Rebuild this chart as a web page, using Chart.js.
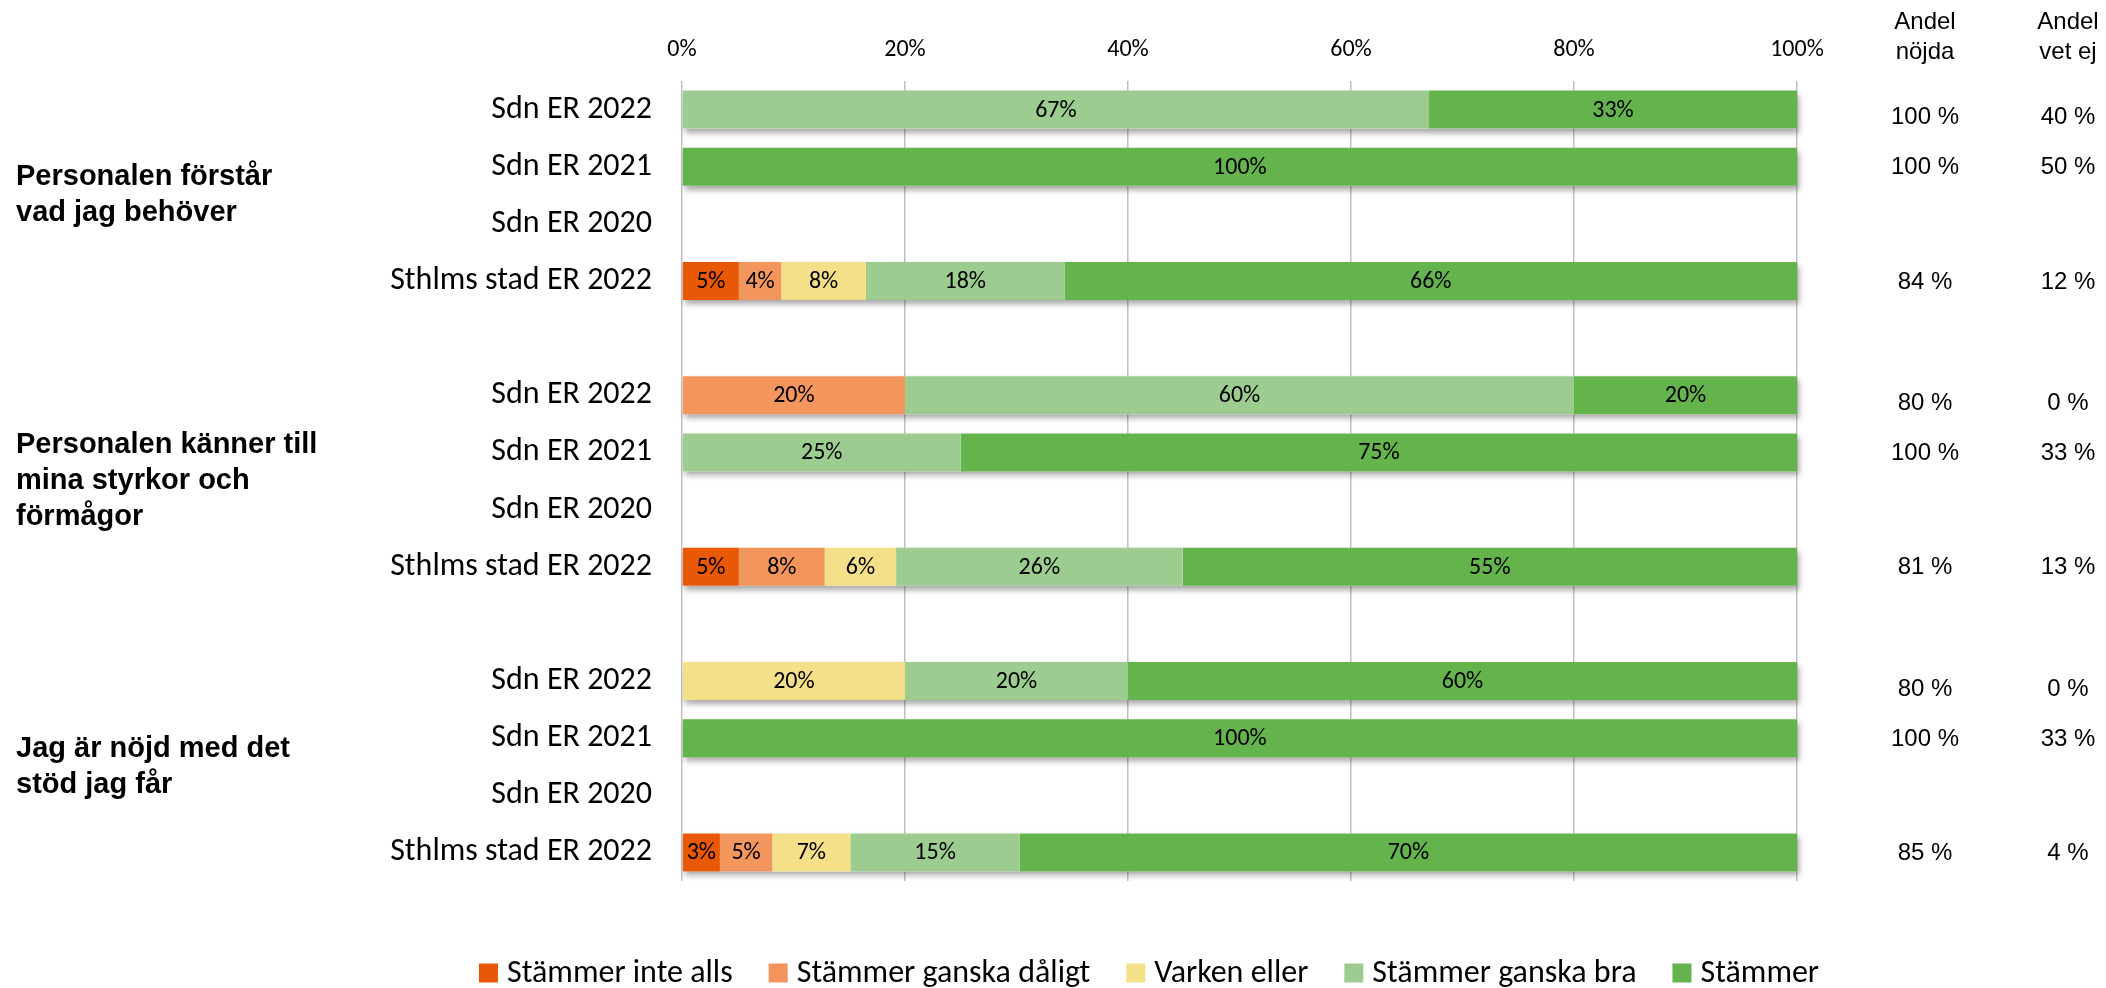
<!DOCTYPE html>
<html>
<head>
<meta charset="utf-8">
<script src="https://cdn.jsdelivr.net/npm/chart.js@4.4.0/dist/chart.umd.min.js"></script>
<style>
  html, body { margin: 0; padding: 0; background: #fff; }
  #wrap { width: 2106px; height: 988px; }
</style>
</head>
<body>
<div id="wrap"><canvas id="chart" width="2106" height="988"></canvas></div>
<script>
// Calibri stand-in for the chart text, Arial stand-in for headings / table
const CALIBRI = 'Carlito, Lato, sans-serif'
const ARIAL = '"Liberation Sans", Arial, sans-serif'

const categories = [
  'Sdn ER 2022', 'Sdn ER 2021', 'Sdn ER 2020', 'Sthlms stad ER 2022', '',
  'Sdn ER 2022', 'Sdn ER 2021', 'Sdn ER 2020', 'Sthlms stad ER 2022', '',
  'Sdn ER 2022', 'Sdn ER 2021', 'Sdn ER 2020', 'Sthlms stad ER 2022',
]

const questions = [
  ['Personalen förstår', 'vad jag behöver'],
  ['Personalen känner till', 'mina styrkor och', 'förmågor'],
  ['Jag är nöjd med det', 'stöd jag får'],
]
const questionRows = [[0, 3], [5, 8], [10, 13]]

const seriesNames = ['Stämmer inte alls', 'Stämmer ganska dåligt', 'Varken eller', 'Stämmer ganska bra', 'Stämmer']
const seriesColors = ['#e85806', '#f2965d', '#f5e08a', '#9dcc91', '#64b34c']

const stammerInteAlls    = [0, 0, null, 5.1,  null, 0,  0,  null, 5.1,  null, 0,  0,   null, 3.4]
const stammerGanskaDalig = [0, 0, null, 3.8,  null, 20, 0,  null, 7.7,  null, 0,  0,   null, 4.7]
const varkenEller        = [0, 0, null, 7.6,  null, 0,  0,  null, 6.4,  null, 20, 0,   null, 7.0]
const stammerGanskaBra   = [67, 0, null, 17.8, null, 60, 25, null, 25.7, null, 20, 0,   null, 15.2]
const stammer            = [33, 100, null, 65.7, null, 20, 75, null, 55.1, null, 60, 100, null, 69.7]
const seriesValues = [stammerInteAlls, stammerGanskaDalig, varkenEller, stammerGanskaBra, stammer]

const tableHeads = [['Andel', 'nöjda'], ['Andel', 'vet ej']]
const andelNojda = ['100 %', '100 %', '', '84 %', '', '80 %', '100 %', '', '81 %', '', '80 %', '100 %', '', '85 %']
const andelVetEj = ['40 %', '50 %', '', '12 %', '', '0 %', '33 %', '', '13 %', '', '0 %', '33 %', '', '4 %']

const xTickStep = 20

// soft drop shadow under every stacked row, drawn once per row
const rowShadow = {
  id: 'rowShadow',
  beforeDatasetsDraw(chart) {
    const ctx = chart.ctx
    const metas = chart.getSortedVisibleDatasetMetas()
    ctx.save()
    ctx.shadowColor = 'rgba(0,0,0,0.35)'
    ctx.shadowBlur = 6
    ctx.shadowOffsetX = 2
    ctx.shadowOffsetY = 4
    ctx.fillStyle = '#fff'
    categories.forEach((c, i) => {
      let lo = Infinity, hi = -Infinity, y = 0, h = 0
      metas.forEach(m => {
        const el = m.data[i]
        if (!el || !seriesValues[m.index][i]) return
        lo = Math.min(lo, el.base, el.x)
        hi = Math.max(hi, el.base, el.x)
        y = el.y
        h = el.height
      })
      if (hi > lo) ctx.fillRect(lo, y - h / 2, hi - lo, h)
    })
    ctx.restore()
  },
}

const barLabels = {
  id: 'barLabels',
  afterDatasetsDraw(chart) {
    const ctx = chart.ctx
    ctx.save()
    ctx.font = `24px ${CALIBRI}`
    ctx.fillStyle = '#000'
    ctx.textAlign = 'center'
    ctx.textBaseline = 'middle'
    chart.getSortedVisibleDatasetMetas().forEach(m => {
      m.data.forEach((el, i) => {
        const v = seriesValues[m.index][i]
        if (!v) return
        ctx.fillText(Math.round(v) + '%', (el.x + el.base) / 2, el.y + 1)
      })
    })
    ctx.restore()
  },
}

const sideText = {
  id: 'sideText',
  afterDraw(chart) {
    const ctx = chart.ctx
    const yScale = chart.scales.y
    ctx.save()
    ctx.fillStyle = '#000'
    ctx.textBaseline = 'middle'

    // question labels on the left
    ctx.font = `bold 29px ${ARIAL}`
    ctx.textAlign = 'left'
    questions.forEach((lines, q) => {
      const [a, b] = questionRows[q]
      const mid = (yScale.getPixelForValue(a) + yScale.getPixelForValue(b)) / 2
      lines.forEach((t, k) => {
        ctx.fillText(t, 16, mid + (k - (lines.length - 1) / 2) * 36)
      })
    })

    // table columns on the right (first row of each block sits a bit lower)
    ctx.font = `24px ${ARIAL}`
    ctx.textAlign = 'center'
    const cols = [1925, 2068]
    tableHeads.forEach((lines, c) => {
      lines.forEach((t, k) => ctx.fillText(t, cols[c], 22 + k * 30))
    })
    const firstRows = questionRows.map(r => r[0])
    ;[andelNojda, andelVetEj].forEach((vals, c) => {
      vals.forEach((t, i) => {
        const dy = firstRows.includes(i) ? 8 : 1
        if (t) ctx.fillText(t, cols[c], yScale.getPixelForValue(i) + dy)
      })
    })

    // legend at the bottom
    ctx.font = `32px ${CALIBRI}`
    ctx.textAlign = 'left'
    const box = 19, gap = 9, itemGap = 36
    const widths = seriesNames.map(n => box + gap + ctx.measureText(n).width)
    const total = widths.reduce((a, b) => a + b, 0) + itemGap * (widths.length - 1)
    let x = 1149 - total / 2
    const ly = 973
    seriesNames.forEach((n, i) => {
      ctx.fillStyle = seriesColors[i]
      ctx.fillRect(x, ly - box / 2, box, box)
      ctx.fillStyle = '#000'
      ctx.fillText(n, x + box + gap, ly + 1)
      x += widths[i] + itemGap
    })
    ctx.restore()
  },
}

new Chart(document.getElementById('chart'), {
  type: 'bar',
  data: {
    labels: categories,
    datasets: seriesNames.map((name, i) => ({
      label: name,
      data: seriesValues[i],
      backgroundColor: seriesColors[i],
      borderWidth: 0,
      categoryPercentage: 1,
      barPercentage: 0.665,
    })),
  },
  options: {
    indexAxis: 'y',
    responsive: false,
    animation: false,
    layout: { padding: { left: 0, top: 0, right: 309, bottom: 107 } },
    plugins: {
      legend: { display: false },
      tooltip: { enabled: false },
    },
    scales: {
      x: {
        position: 'top',
        stacked: true,
        min: 0,
        max: 100,
        afterFit: s => { s.height = 81 },
        ticks: {
          stepSize: xTickStep,
          callback: v => v + '%',
          font: { family: CALIBRI, size: 24 },
          color: '#000',
          padding: 17,
        },
        grid: { color: '#c0c0c0', lineWidth: 1.5, drawTicks: false },
        border: { display: false },
      },
      y: {
        stacked: true,
        afterFit: s => { s.width = 682 },
        ticks: {
          font: { family: CALIBRI, size: 32 },
          color: '#000',
          padding: 22,
          autoSkip: false,
        },
        grid: { display: false },
        border: { display: false },
      },
    },
  },
  plugins: [rowShadow, barLabels, sideText],
})
</script>
</body>
</html>
